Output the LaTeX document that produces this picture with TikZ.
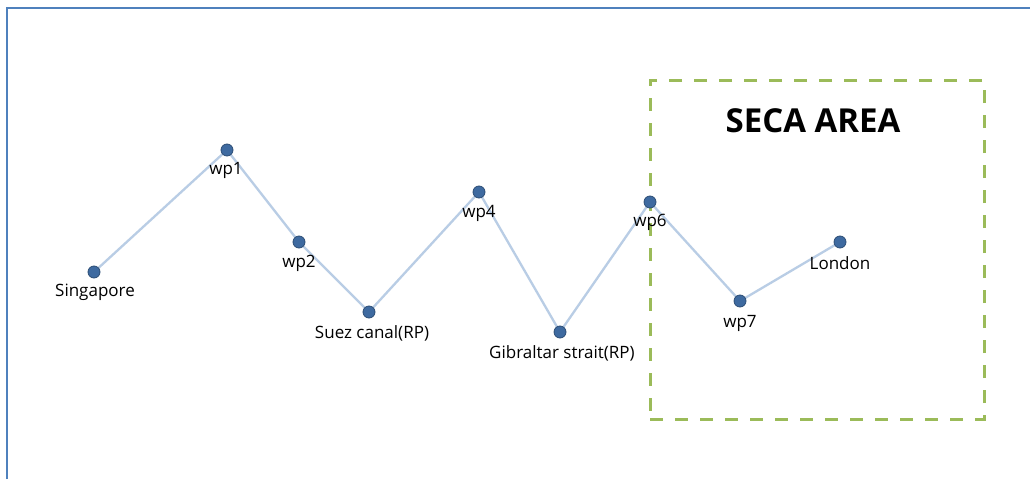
\documentclass[tikz,border=0pt]{standalone}
\usepackage{fontspec}
\setmainfont{Open Sans}
\definecolor{frameblue}{HTML}{4F81BD}
\definecolor{routeblue}{HTML}{B9CDE5}
\definecolor{dotfill}{HTML}{3E6AA0}
\definecolor{dotline}{HTML}{2C4D75}
\definecolor{secagreen}{HTML}{9BBB59}
\tikzset{
  wpt/.style={circle,fill=dotfill,draw=dotline,line width=0.8pt,minimum size=12pt,inner sep=0pt},
  wlabel/.style={font=\fontsize{17}{19}\selectfont,text=black,inner sep=0pt},
  route/.style={draw=routeblue,line width=2.3pt},
}
\begin{document}
\begin{tikzpicture}[x=1pt,y=-1pt]
\useasboundingbox (0,0) rectangle (1030,479);
\fill[white] (0,0) rectangle (1030,479);
% frame (only top and left edges visible)
\draw[frameblue,line width=2.6pt] (7,479) -- (7,8) -- (1030,8);
% SECA box
\node[draw=secagreen,line width=3pt,dash pattern=on 13pt off 12pt,minimum width=334pt,minimum height=339pt,inner sep=0pt] (seca) at (817,249.5) {};
\node[font=\bfseries\fontsize{33}{36}\selectfont,inner sep=0pt] (secatitle) at (813,121) {SECA AREA};
% waypoints
\coordinate (p0) at (94,272);
\coordinate (p1) at (227,150);
\coordinate (p2) at (299,242);
\coordinate (p3) at (369,312);
\coordinate (p4) at (479,192);
\coordinate (p5) at (560,332);
\coordinate (p6) at (650,202);
\coordinate (p7) at (740,301);
\coordinate (p8) at (840,242);
\draw[route] (p0) -- (p1) -- (p2) -- (p3) -- (p4) -- (p5) -- (p6) -- (p7) -- (p8);
\foreach \i in {0,...,8} {\node[wpt] (d\i) at (p\i) {};}
\node[wlabel] (l0) at (95,292) {Singapore};
\node[wlabel] (l1) at (226,170) {wp1};
\node[wlabel] (l2) at (299,263) {wp2};
\node[wlabel] (l3) at (372,333) {Suez canal(RP)};
\node[wlabel] (l4) at (479,213) {wp4};
\node[wlabel] (l5) at (562,353) {Gibraltar strait(RP)};
\node[wlabel] (l6) at (650,222) {wp6};
\node[wlabel] (l7) at (740,323) {wp7};
\node[wlabel] (l8) at (840,263) {London};
\end{tikzpicture}
\end{document}
